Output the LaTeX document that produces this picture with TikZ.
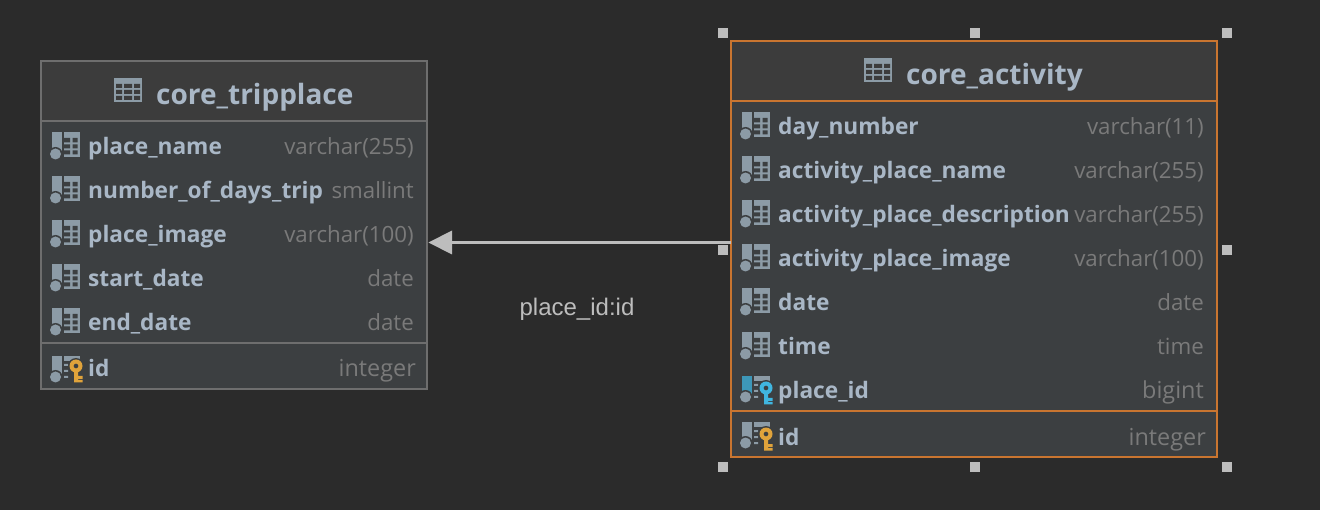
\documentclass[tikz,border=0pt]{standalone}
\usepackage{fontspec}
\setmainfont{Open Sans}
\newfontfamily\labelfont{Liberation Sans}
\definecolor{bgc}{HTML}{2B2B2B}
\definecolor{headc}{HTML}{3C3C3C}
\definecolor{bodyc}{HTML}{3C3F41}
\definecolor{greyb}{HTML}{6E6E6E}
\definecolor{orangeb}{HTML}{C97530}
\definecolor{namec}{HTML}{A9B7C6}
\definecolor{typec}{HTML}{7A7A7A}
\definecolor{iconc}{HTML}{8C9BA6}
\definecolor{iconb}{HTML}{3D97B8}
\definecolor{keyg}{HTML}{E0A33B}
\definecolor{keyb}{HTML}{40B6E0}
\definecolor{handlec}{HTML}{BDBDBD}
\tikzset{x=1pt,y=-1pt,
 tablebox/.style={draw=#1,line width=1.2pt,fill=bodyc,inner sep=0pt,outer sep=0pt,anchor=north west},
 colname/.style={anchor=base west,inner sep=0pt,text=namec,font=\fontsize{22.7}{23}\selectfont\bfseries},
 coltype/.style={anchor=base east,inner sep=0pt,text=typec,font=\fontsize{22.3}{23}\selectfont},
 keytype/.style={coltype,font=\fontsize{23.4}{24}\selectfont},
 tabletitle/.style={anchor=base west,inner sep=0pt,text=namec,font=\fontsize{28}{28}\selectfont\bfseries},
 handle/.style={fill=handlec,draw=none,minimum size=10pt,inner sep=0pt},
 relation/.style={draw=handlec,line width=3pt},
 reltip/.style={fill=handlec,draw=none},
 edgelabel/.style={text=handlec,anchor=base,inner sep=0pt,font=\labelfont\fontsize{24}{24}\selectfont},
 pics/tableicon/.style={code={
   \fill[iconc] (0,0) rectangle (28,24);
   \fill[headc] (2,6) rectangle (8,10) (10,6) rectangle (18,10) (20,6) rectangle (26,10)
     (2,12) rectangle (8,16) (10,12) rectangle (18,16) (20,12) rectangle (26,16)
     (2,18) rectangle (8,22) (10,18) rectangle (18,22) (20,18) rectangle (26,22);
 }},
 pics/colicon/.style={code={
   \fill[iconc] (1,-1) rectangle (11,20);
   \fill[bodyc] (4.5,21) circle (7);
   \fill[iconc] (4.5,21) circle (5.5);
   \fill[iconc] (13,-1) rectangle (29,24);
   \fill[bodyc] (13,5) rectangle (19,9.5) (21.5,5) rectangle (26.5,9.5)
     (13,11.5) rectangle (19,15.5) (21.5,11.5) rectangle (26.5,15.5)
     (13,17.5) rectangle (19,21.5) (21.5,17.5) rectangle (26.5,21.5);
 }},
 pics/keyicon/.style={code={
   \fill[#1] (1,-1) rectangle (11,19);
   \fill[bodyc] (4.5,20) circle (7);
   \fill[iconc] (4.5,20) circle (5.5);
   \fill[iconc] (13,-1) rectangle (29,4);
   \fill[iconc] (13,7) rectangle (17,9) (13,13) rectangle (17,15) (13,19) rectangle (17,21);
 }},
 pics/keyshape/.style={code={
   \fill[bodyc] (0,0) circle (8);
   \fill[#1,even odd rule] (0,0) circle (6.5) (0,0) circle (2.5);
   \fill[#1] (-2,5) rectangle (2,16.5) (2,10) rectangle (6.5,13) (2,14) rectangle (6.5,16.5);
 }},
}
\begin{document}
\begin{tikzpicture}
\useasboundingbox (0,0) rectangle (1320,510);
\fill[bgc] (0,0) rectangle (1320,510);
% left table
\node[tablebox=greyb,minimum width=386pt,minimum height=328pt] (trip) at (41,61) {};
\fill[headc] (41.6,61.6) rectangle (426.4,120);
\draw[greyb,line width=2.5pt] (41,121) -- (427,121);
\draw[greyb,line width=2.5pt] (41,343) -- (427,343);
\pic at (114,78) {tableicon};
\node[tabletitle] (triptitle) at (156,105) {core\_tripplace};
\foreach \nm/\ty/\yy [count=\i] in {place\_name/varchar(255)/146,number\_of\_days\_trip/smallint/190,place\_image/varchar(100)/234,start\_date/date/278,end\_date/date/322}{
  \pic at (51,\yy-13) {colicon};
  \node[colname] (tn\i) at (88,\yy+9) {\nm};
  \node[coltype] (tt\i) at (414,\yy+9) {\ty};
}
\pic at (51,357) {keyicon=iconc};
\pic at (76,366) {keyshape=keyg};
\node[colname] (tnid) at (88,377) {id};
\node[keytype] (ttid) at (416,377) {integer};
% right table
\node[tablebox=orangeb,minimum width=486pt,minimum height=416pt] (act) at (731,41) {};
\fill[headc] (731.6,41.6) rectangle (1216.4,100);
\draw[orangeb,line width=2.5pt] (731,101) -- (1217,101);
\draw[orangeb,line width=2.5pt] (731,411) -- (1217,411);
\pic at (864,58) {tableicon};
\node[tabletitle] (acttitle) at (906,85) {core\_activity};
\foreach \nm/\ty/\yy [count=\i] in {day\_number/varchar(11)/126,activity\_place\_name/varchar(255)/170,activity\_place\_description/varchar(255)/214,activity\_place\_image/varchar(100)/258,date/date/302,time/time/346}{
  \pic at (741,\yy-13) {colicon};
  \node[colname] (an\i) at (778,\yy+9) {\nm};
  \node[coltype] (at\i) at (1204,\yy+9) {\ty};
}
\pic at (741,377) {keyicon=iconb};
\pic at (766,388) {keyshape=keyb};
\node[colname] (anfk) at (778,399) {place\_id};
\node[keytype] (atfk) at (1204,399) {bigint};
\pic at (741,423) {keyicon=iconc};
\pic at (766,434) {keyshape=keyg};
\node[colname] (anid) at (778,445) {id};
\node[keytype] (atid) at (1206,445) {integer};
% connector
\coordinate (relstart) at (act.west |- 0,242.5);
\coordinate (relbase) at (452,242.5);
\draw[relation] (relstart) -- (relbase);
\fill[reltip] (428.5,242.5) -- (452,230.5) -- (452,254.5) -- cycle;
\node[edgelabel] (rellabel) at (577,315.5) {place\_id:id};
% selection handles
\foreach \hx/\hy [count=\i] in {723/33,975/33,1227/33,723/250,1227/250,723/466.5,975/466.5,1227/466.5}{
  \node[handle] (h\i) at (\hx,\hy) {};
}
\end{tikzpicture}
\end{document}
